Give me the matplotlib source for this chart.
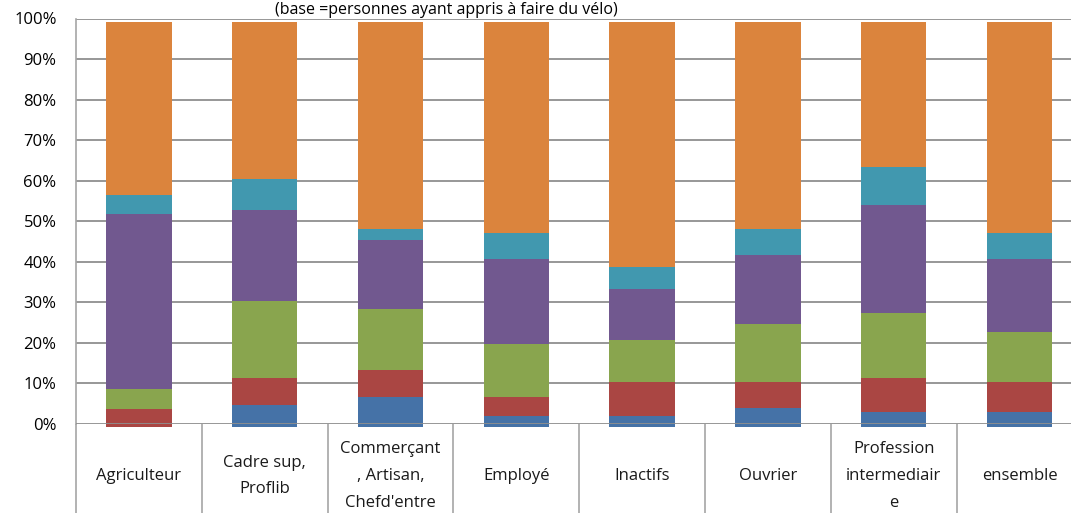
import matplotlib
matplotlib.use("Agg")
import matplotlib.pyplot as plt
import numpy as np

plt.rcParams["font.family"] = ["Open Sans", "DejaVu Sans"]

categories = [
    "Agriculteur",
    "Cadre sup,\nProflib",
    "Commerçant\n, Artisan,\nChefd'entre",
    "Employé",
    "Inactifs",
    "Ouvrier",
    "Profession\nintermediair\ne",
    "ensemble",
]

# stacked shares (%) from bottom to top, one list per segment colour
blue = [0.0, 5.5, 7.5, 2.8, 2.8, 4.8, 3.8, 3.8]
red = [4.5, 6.7, 6.6, 4.7, 8.4, 6.4, 8.4, 7.4]
green = [4.9, 19.0, 15.1, 13.1, 10.3, 14.3, 16.0, 12.3]
purple = [43.3, 22.4, 17.0, 20.9, 12.5, 17.0, 26.5, 18.0]
teal = [4.6, 7.7, 2.7, 6.5, 5.6, 6.4, 9.4, 6.5]
orange = [42.7, 38.7, 51.1, 52.0, 60.4, 51.1, 35.9, 52.0]

series = [blue, red, green, purple, teal, orange]
colors = ["#4572A7", "#AA4643", "#89A54E", "#71588F", "#4198AF", "#DB843D"]

W, H = 1071, 513
fig = plt.figure(figsize=(W / 100, H / 100), dpi=100)
left, right = 76, 1082.5
top, bottom = 18.5, 424
ax = fig.add_axes([left / W, 1 - bottom / H, (right - left) / W, (bottom - top) / H])

x = np.arange(len(categories))
base = np.full(len(categories), -0.8)
for values, color in zip(series, colors):
    ax.bar(x, values, width=0.52, bottom=base, color=color, zorder=2, clip_on=False)
    base = base + np.array(values)

ax.set_xlim(-0.5, len(categories) - 0.5)
ax.set_ylim(0, 100)
ax.set_yticks(np.arange(0, 101, 10))
ax.set_yticklabels([f"{v}%" for v in range(0, 101, 10)], fontsize=12)
ax.tick_params(axis="y", length=0, pad=14)
ax.set_xticks([])
for v in range(0, 101, 10):
    ax.axhline(v, color="#8f8f8f", linewidth=1.3, zorder=3 if v == 0 else 1)
for side in ["top", "right", "bottom"]:
    ax.spines[side].set_visible(False)
ax.spines["left"].set_color("#a6a6a6")
ax.spines["left"].set_linewidth(1.2)

# category table below the axis
drop = (H - bottom) / (bottom - top)
trans = ax.get_xaxis_transform()
ax.vlines(np.arange(len(categories) + 1) - 0.5, -drop - 0.01, 0, transform=trans,
          color="#a6a6a6", linewidth=1.2, clip_on=False)
label_y = -(476 - bottom) / (bottom - top)
for xi, name in zip(x, categories):
    ax.text(xi, label_y, name, transform=trans, ha="center", va="center",
            fontsize=12, linespacing=1.9, color="#1a1a1a")

fig.text(446 / W, 1 - 14 / H, "(base =personnes ayant appris à faire du vélo)",
         ha="center", va="baseline", fontsize=11.5)

fig.savefig("out.png", dpi=100)
